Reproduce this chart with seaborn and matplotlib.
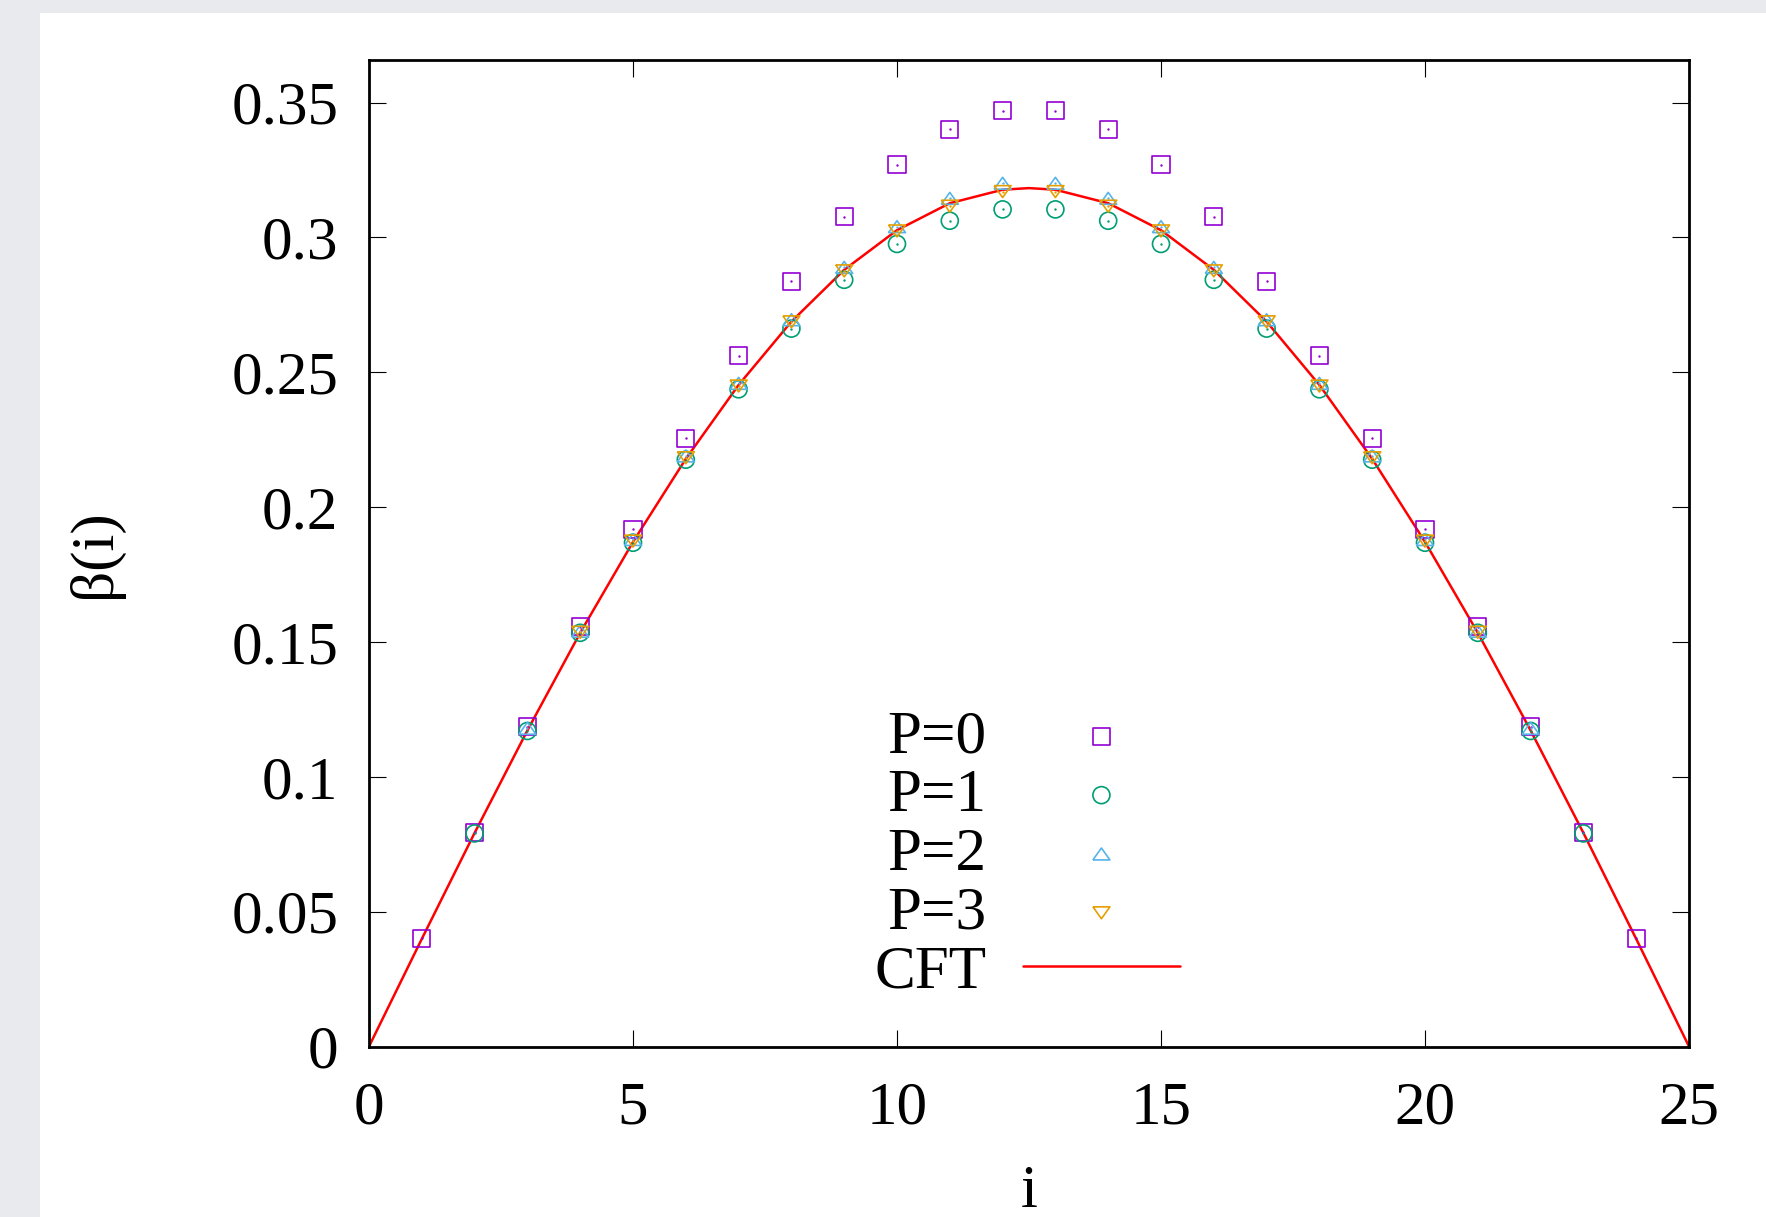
import matplotlib.pyplot as plt
import matplotlib.patches as mpatches
import pandas as pd
import seaborn as sns

# beta(i) for a chain of length 25
i_p0 = list(range(1, 25))
beta_p0 = [0.0401, 0.0794, 0.1186, 0.1557, 0.1918, 0.2256, 0.2561, 0.2838,
           0.3077, 0.3270, 0.3402, 0.3470, 0.3470, 0.3402, 0.3270, 0.3077,
           0.2838, 0.2561, 0.2256, 0.1918, 0.1557, 0.1186, 0.0794, 0.0401]

i_p1 = list(range(2, 24))
beta_p1 = [0.0790, 0.1170, 0.1534, 0.1868, 0.2176, 0.2437, 0.2662, 0.2843,
           0.2976, 0.3062, 0.3104, 0.3104, 0.3062, 0.2976, 0.2843, 0.2662,
           0.2437, 0.2176, 0.1868, 0.1534, 0.1170, 0.0790]

i_p2 = list(range(3, 23))
beta_p2 = [0.1180, 0.1540, 0.1880, 0.2190, 0.2459, 0.2695, 0.2889, 0.3040,
           0.3145, 0.3201, 0.3201, 0.3145, 0.3040, 0.2889, 0.2695, 0.2459,
           0.2190, 0.1880, 0.1540, 0.1180]

i_p3 = list(range(4, 22))
beta_p3 = [0.1536, 0.1874, 0.2183, 0.2449, 0.2687, 0.2876, 0.3024, 0.3116,
           0.3170, 0.3170, 0.3116, 0.3024, 0.2876, 0.2687, 0.2449, 0.2183,
           0.1874, 0.1536]

x_cft = [0, 1, 2, 3, 4, 5, 6, 7, 8, 9, 10, 11, 12, 12.5,
         13, 14, 15, 16, 17, 18, 19, 20, 21, 22, 23, 24, 25]
beta_cft = [0.0, 0.0399, 0.0792, 0.1172, 0.1534, 0.1871, 0.2179, 0.2453,
            0.2688, 0.2880, 0.3027, 0.3127, 0.3177, 0.3183,
            0.3177, 0.3127, 0.3027, 0.2880, 0.2688, 0.2453, 0.2179, 0.1871,
            0.1534, 0.1172, 0.0792, 0.0399, 0.0]

series = [
    ('P=0', i_p0, beta_p0, '#9400d3', 's'),
    ('P=1', i_p1, beta_p1, '#009e73', 'o'),
    ('P=2', i_p2, beta_p2, '#56b4e9', [(-1, -0.7), (1, -0.7), (0, 0.7), (-1, -0.7)]),
    ('P=3', i_p3, beta_p3, '#e69f00', [(-1, 0.7), (1, 0.7), (0, -0.7), (-1, 0.7)]),
]

sns.set_theme(style='ticks')
plt.rcParams['font.family'] = ['Liberation Serif', 'DejaVu Serif']
plt.rcParams['text.color'] = 'black'
plt.rcParams['axes.labelcolor'] = 'black'

fig = plt.figure(figsize=(17.66, 12.17), dpi=100, facecolor='#e8eaed')
fig.patches.append(mpatches.Rectangle((40 / 1766, 0), 1, (1217 - 13) / 1217,
                                      transform=fig.transFigure,
                                      facecolor='white', edgecolor='none', zorder=-5))
ax = fig.add_axes([369 / 1766, 1 - 1046.5 / 1217, 1320 / 1766, 986.5 / 1217])
ax.set_facecolor('white')

for name, xs, ys, col, mk in series:
    df = pd.DataFrame({'i': xs, 'beta': ys})
    sns.scatterplot(data=df, x='i', y='beta', marker=mk, s=150, fc='none',
                    ec=col, linewidth=1.2, label=name, ax=ax, zorder=3)
    sns.scatterplot(data=df, x='i', y='beta', marker='o', s=3, color=col,
                    linewidth=0, legend=False, ax=ax, zorder=3)

cft = pd.DataFrame({'i': x_cft, 'beta': beta_cft})
sns.lineplot(data=cft, x='i', y='beta', color='#ff0000', linewidth=1.8,
             label='CFT', ax=ax, zorder=2)

ax.set_xlim(0, 25)
ax.set_ylim(0, 0.3658)
ax.set_xticks([0, 5, 10, 15, 20, 25])
ax.set_yticks([0, 0.05, 0.1, 0.15, 0.2, 0.25, 0.3, 0.35])
ax.set_yticklabels(['0', '0.05', '0.1', '0.15', '0.2', '0.25', '0.3', '0.35'])
ax.tick_params(direction='in', length=12, width=0.8, labelsize=44,
               top=True, right=True, pad=22, colors='black')
ax.tick_params(axis='x', pad=25)
for sp in ax.spines.values():
    sp.set_linewidth(2)
    sp.set_color('black')

ax.set_xlabel('i', fontsize=44, labelpad=20)
ax.set_ylabel('β(i)', fontsize=44, labelpad=78)

ax.legend(loc='center', bbox_to_anchor=(0.4985, 0.194), frameon=False,
          fontsize=44, markerfirst=False, handlelength=2.57, handletextpad=0.6,
          labelspacing=0.05, borderpad=0)

plt.savefig('out.png', dpi=100)
